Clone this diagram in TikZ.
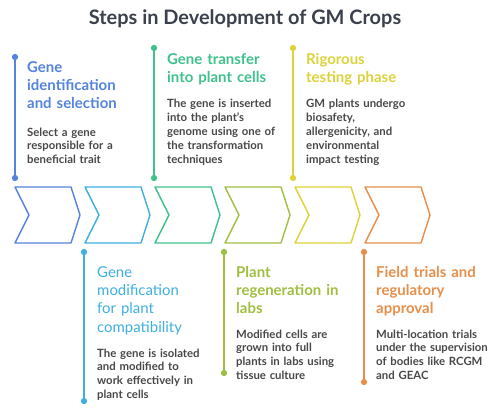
\documentclass[tikz,border=0pt]{standalone}
\usepackage{fontspec}
\setmainfont{Lato}
\definecolor{cA}{HTML}{5484DE}
\definecolor{cB}{HTML}{3DB0DF}
\definecolor{cC}{HTML}{3FC18C}
\definecolor{cD}{HTML}{A0BF40}
\definecolor{cE}{HTML}{DDD23A}
\definecolor{cF}{HTML}{E78F4A}
\definecolor{bodyc}{HTML}{484848}
\definecolor{titlec}{HTML}{3B414C}
\newcommand\mychev[2]{\draw[chevline,#2] (#1,187) -- ++(56,0) -- ++(9,28) -- ++(-9,28) -- ++(-56,0) -- ++(14,-28) -- cycle;}
\tikzset{
  chevline/.style={line width=1.4bp,line join=round},
  mline/.style={line width=1.4bp},
  mdot/.style={line width=1.2bp,fill=white},
  hd/.style={anchor=base west,inner sep=0,align=left,text width=140bp,font=\fontsize{15}{18.3}\selectfont\bfseries},
  hdlight/.style={hd,font=\fontsize{15}{18.3}\selectfont},
  bd/.style={anchor=base west,inner sep=0,align=left,text width=140bp,text=bodyc,font=\fontsize{11.4}{14}\selectfont\bfseries},
}
\begin{document}
\begin{tikzpicture}[x=1bp,y=-1bp]
\useasboundingbox (0,0) rectangle (497,407);
\fill[white] (0,0) rectangle (497,407);
\node[anchor=base,inner sep=0,text=titlec,font=\fontsize{20}{22}\selectfont\bfseries] (title) at (245,24) {Steps in Development of GM Crops};

% chevrons
\mychev{15}{cA}
\mychev{85}{cB}
\mychev{155}{cC}
\mychev{225}{cD}
\mychev{295}{cE}
\mychev{365}{cF}

% markers
\coordinate (a1) at (15,57);  \coordinate (a2) at (15,178);
\coordinate (b1) at (84,252); \coordinate (b2) at (84,401);
\coordinate (c1) at (154,48); \coordinate (c2) at (154,178);
\coordinate (d1) at (224,252); \coordinate (d2) at (224,373);
\coordinate (e1) at (293,48); \coordinate (e2) at (293,178);
\coordinate (f1) at (364,252); \coordinate (f2) at (364,382);
\foreach \m/\c in {a/cA,b/cB,c/cC,d/cD,e/cE,f/cF}{
  \draw[mline,\c] (\m1) -- (\m2);
  \draw[mdot,\c] (\m1) circle (2.5bp);
  \draw[mdot,\c] (\m2) circle (2.5bp);
}

% texts
\node[hd,text=cA] (ha) at (27,72.5) {Gene\\identification\\and selection};
\node[bd] (ba) at (27,136) {Select a gene\\responsible for a\\beneficial trait};

\node[hd,text=cC] (hc) at (167,64) {Gene transfer\\into plant cells};
\node[bd] (bc) at (167,107.5) {The gene is inserted\\into the plant's\\genome using one of\\the transformation\\techniques};

\node[hd,text=cE] (he) at (306,64) {Rigorous\\testing phase};
\node[bd] (be) at (306,107.5) {GM plants undergo\\biosafety,\\allergenicity, and\\environmental\\impact testing};

\node[hdlight,text=cB] (hb) at (97,277.5) {Gene\\modification\\for plant\\compatibility};
\node[bd] (bb) at (97,357) {The gene is isolated\\and modified to\\work effectively in\\plant cells};

\node[hd,text=cD] (hd) at (236,277.5) {Plant\\regeneration in\\labs};
\node[bd] (bdd) at (236,338) {Modified cells are\\grown into full\\plants in labs using\\tissue culture};

\node[hd,text=cF] (hf) at (376,277.5) {Field trials and\\regulatory\\approval};
\node[bd] (bf) at (376,338) {Multi-location trials\\under the supervision\\of bodies like RCGM\\and GEAC};
\end{tikzpicture}
\end{document}
